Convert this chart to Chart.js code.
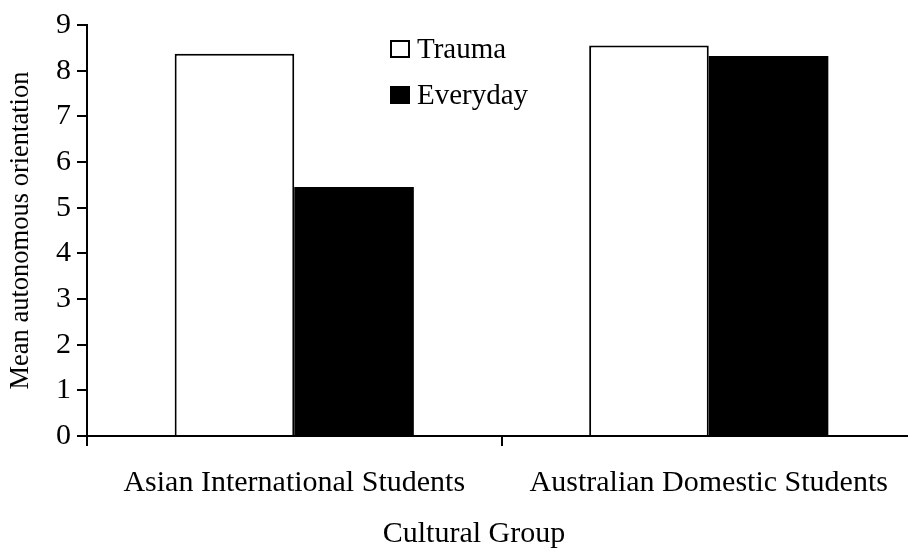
<!DOCTYPE html>
<html>
<head>
<meta charset="utf-8">
<script src="https://cdn.jsdelivr.net/npm/chart.js@4"></script>
<style>
html,body{margin:0;padding:0;background:#fff;overflow:hidden;width:908px;height:548px;}
#wrap{position:relative;width:916px;height:548px;}
</style>
</head>
<body>
<div id="wrap"><canvas id="c" width="916" height="548"></canvas></div>
<script>
const categories = ["Asian International Students", "Australian Domestic Students"];
const seriesNames = ["Trauma", "Everyday"];
const traumaValues = [8.37, 8.55];
const everydayValues = [5.45, 8.32];
const yTicks = [0,1,2,3,4,5,6,7,8,9];
const yTitle = "Mean autonomous orientation";
const xTitle = "Cultural Group";

const FONT = "'Liberation Serif', 'Times New Roman', serif";

const legendPlugin = {
  id: 'customLegend',
  afterDraw(chart) {
    const ctx = chart.ctx;
    const x0 = chart.chartArea.left + 303;
    const rows = [49, 95];
    ctx.save();
    chart.data.datasets.forEach((ds, i) => {
      const yc = rows[i];
      ctx.fillStyle = ds.backgroundColor;
      ctx.fillRect(x0, yc - 9, 20, 18);
      ctx.lineWidth = 2;
      ctx.strokeStyle = '#000';
      ctx.strokeRect(x0 + 1, yc - 8, 18, 16);
      ctx.fillStyle = '#000';
      ctx.font = "29px " + FONT;
      ctx.textBaseline = 'middle';
      ctx.textAlign = 'left';
      ctx.fillText(ds.label, x0 + 27, yc + 1);
    });
    // x-axis title
    ctx.font = "30px " + FONT;
    ctx.textAlign = 'center';
    ctx.textBaseline = 'alphabetic';
    ctx.fillText(xTitle, 474, 542);
    ctx.restore();
  }
};

new Chart(document.getElementById('c'), {
  type: 'bar',
  data: {
    labels: categories,
    datasets: [
      { label: seriesNames[0], data: traumaValues, backgroundColor: '#ffffff', borderColor: '#000000', borderWidth: 2, borderSkipped: 'bottom' },
      { label: seriesNames[1], data: everydayValues, backgroundColor: '#000000', borderColor: '#000000', borderWidth: 0 }
    ]
  },
  options: {
    responsive: false,
    animation: false,
    devicePixelRatio: 1,
    layout: { padding: { top: 25, right: 0, bottom: 0, left: 0 } },
    datasets: { bar: { categoryPercentage: 0.577, barPercentage: 1.0 } },
    plugins: { legend: { display: false }, tooltip: { enabled: false } },
    scales: {
      x: {
        offset: true,
        grid: { display: true, drawOnChartArea: false, drawTicks: true, tickLength: 10, offset: true, color: '#000', lineWidth: 2 },
        border: { display: true, color: '#000', width: 2 },
        ticks: { color: '#000', font: { family: FONT, size: 30 }, padding: 19, maxRotation: 0 },
        title: { display: false },
        afterFit(scale) { scale.height = 112; }
      },
      y: {
        min: 0, max: 9,
        afterBuildTicks(scale) { scale.ticks = yTicks.map(v => ({ value: v })); },
        grid: { display: true, drawOnChartArea: false, drawTicks: true, tickLength: 10, color: '#000', lineWidth: 2 },
        border: { display: true, color: '#000', width: 2 },
        ticks: { color: '#000', font: { family: FONT, size: 30 }, padding: 6 },
        title: { display: true, text: yTitle, color: '#000', font: { family: FONT, size: 26.5 }, padding: { top: 5, bottom: 0 } },
        afterFit(scale) { scale.width = 87; }
      }
    }
  },
  plugins: [legendPlugin]
});
</script>
</body>
</html>
